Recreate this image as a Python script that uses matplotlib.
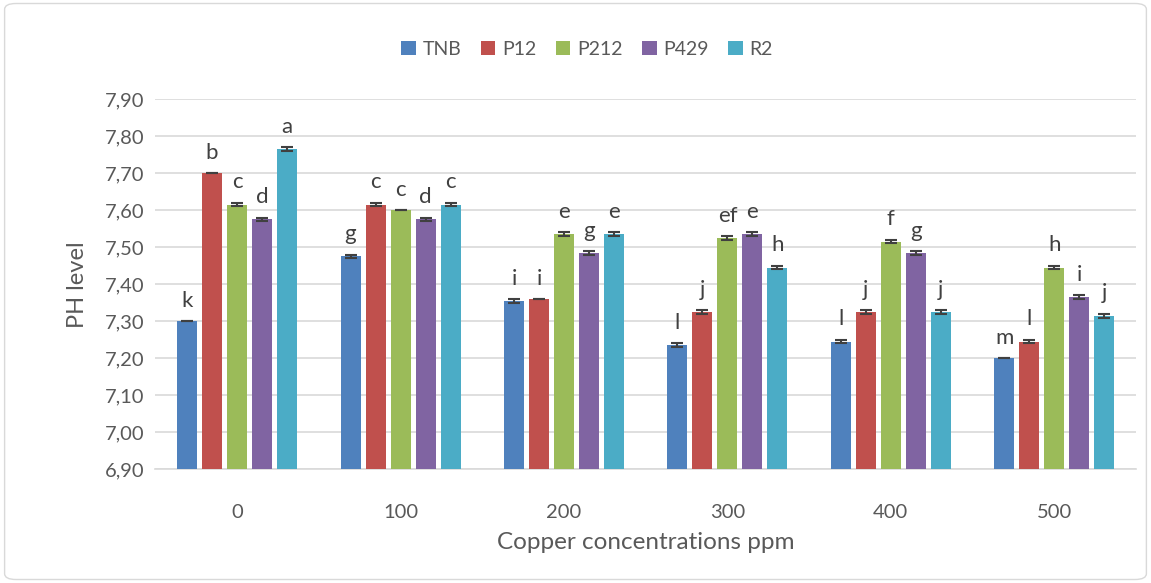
import matplotlib.pyplot as plt
import numpy as np
from matplotlib.patches import FancyBboxPatch
from matplotlib.ticker import FuncFormatter

plt.rcParams['font.family'] = ['Lato', 'DejaVu Sans']

concentrations = ['0', '100', '200', '300', '400', '500']
strains = ['TNB', 'P12', 'P212', 'P429', 'R2']
colors = ['#4F81BD', '#C0504D', '#9BBB59', '#8064A2', '#4BACC6']

ph_values = {
    'TNB':  [7.300, 7.475, 7.355, 7.235, 7.245, 7.200],
    'P12':  [7.700, 7.615, 7.360, 7.325, 7.325, 7.245],
    'P212': [7.615, 7.600, 7.535, 7.525, 7.515, 7.445],
    'P429': [7.575, 7.575, 7.485, 7.535, 7.485, 7.365],
    'R2':   [7.765, 7.615, 7.535, 7.445, 7.325, 7.315],
}
ph_errors = {
    'TNB':  [0.000, 0.005, 0.005, 0.005, 0.005, 0.000],
    'P12':  [0.000, 0.005, 0.000, 0.005, 0.005, 0.005],
    'P212': [0.005, 0.000, 0.005, 0.005, 0.005, 0.005],
    'P429': [0.005, 0.005, 0.005, 0.005, 0.005, 0.005],
    'R2':   [0.005, 0.005, 0.005, 0.005, 0.005, 0.005],
}
letters = {
    'TNB':  ['k', 'g', 'i', 'l', 'l', 'm'],
    'P12':  ['b', 'c', 'i', 'j', 'j', 'l'],
    'P212': ['c', 'c', 'e', 'ef', 'f', 'h'],
    'P429': ['d', 'd', 'g', 'e', 'g', 'i'],
    'R2':   ['a', 'c', 'e', 'h', 'j', 'j'],
}

fig = plt.figure(figsize=(11.51, 5.83), dpi=100)
ax = fig.add_axes([0.135, 0.195, 0.852, 0.635])

x = np.arange(len(concentrations))
step = 0.153
width = 0.122
base = 6.90

for i, s in enumerate(strains):
    pos = x + (i - 2) * step
    vals = np.array(ph_values[s])
    ax.bar(pos, vals - base, width, bottom=base, color=colors[i], label=s, zorder=3)
    ax.errorbar(pos, vals, yerr=ph_errors[s], fmt='none', ecolor='#404040',
                elinewidth=1.5, capsize=4.5, capthick=1.5, zorder=4)
    for p, v, e, t in zip(pos, vals, ph_errors[s], letters[s]):
        ax.text(p, v + e + 0.028, t, ha='center', va='bottom', fontsize=16,
                color='#404040', zorder=5)

ax.set_ylim(6.90, 7.90)
ax.set_xlim(-0.5, len(concentrations) - 0.5)
ax.set_yticks(np.arange(6.90, 7.91, 0.10))
ax.yaxis.set_major_formatter(FuncFormatter(lambda v, _: ('%.2f' % v).replace('.', ',')))
ax.set_xticks(x)
ax.set_xticklabels(concentrations)
ax.tick_params(axis='both', length=0, labelsize=14.5, labelcolor='#595959')
ax.tick_params(axis='y', pad=8)
ax.tick_params(axis='x', pad=25)
ax.yaxis.grid(True, color='#D9D9D9', linewidth=1.2, zorder=0)
for side in ['top', 'right', 'left']:
    ax.spines[side].set_visible(False)
ax.spines['bottom'].set_color('#D9D9D9')
ax.spines['bottom'].set_linewidth(1.2)

ax.set_ylabel('PH level', fontsize=17, color='#595959', labelpad=12)
ax.set_xlabel('Copper concentrations ppm', fontsize=17.5, color='#595959', labelpad=8)

fig.legend(loc='upper center', bbox_to_anchor=(0.51, 0.96), ncol=5, frameon=False,
           fontsize=14, handlelength=0.75, handleheight=0.75, handletextpad=0.35,
           columnspacing=1.0, labelcolor='#595959')

# thin outer frame around the chart
frame = FancyBboxPatch((0.004, 0.006), 0.992, 0.988, boxstyle='round,pad=0,rounding_size=0.01',
                       transform=fig.transFigure, fill=False, edgecolor='#D9D9D9', linewidth=1)
fig.patches.append(frame)

fig.savefig('out.png', dpi=100)
